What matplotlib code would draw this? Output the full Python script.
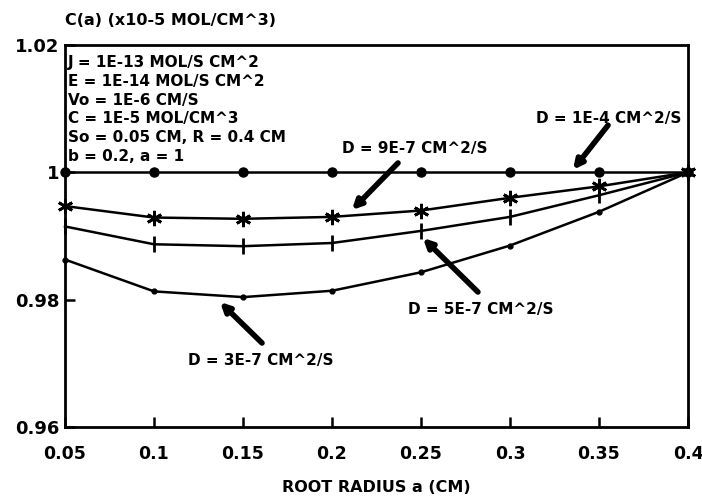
import matplotlib
matplotlib.use("Agg")
import matplotlib.pyplot as plt

# ---- data ----
radius = [0.05, 0.10, 0.15, 0.20, 0.25, 0.30, 0.35, 0.40]
c_d1e4 = [1.0, 1.0, 1.0, 1.0, 1.0, 1.0, 1.0, 1.0]
c_d9e7 = [0.9947, 0.9929, 0.9927, 0.9930, 0.9940, 0.9960, 0.9978, 1.0]
c_d5e7 = [0.9915, 0.9887, 0.9884, 0.9889, 0.9908, 0.9930, 0.9964, 1.0]
c_d3e7 = [0.9863, 0.9813, 0.9804, 0.9814, 0.9843, 0.9885, 0.9938, 1.0]

x_ticks = [0.05, 0.1, 0.15, 0.2, 0.25, 0.3, 0.35, 0.4]
x_ticklabels = ["0.05", "0.1", "0.15", "0.2", "0.25", "0.3", "0.35", "0.4"]
y_ticks = [0.96, 0.98, 1.0, 1.02]
y_ticklabels = ["0.96", "0.98", "1", "1.02"]

params = ["J = 1E-13 MOL/S CM^2",
          "E = 1E-14 MOL/S CM^2",
          "Vo = 1E-6 CM/S",
          "C = 1E-5 MOL/CM^3",
          "So = 0.05 CM, R = 0.4 CM",
          "b = 0.2, a = 1"]

labels = ["D = 1E-4 CM^2/S", "D = 9E-7 CM^2/S", "D = 5E-7 CM^2/S", "D = 3E-7 CM^2/S"]

plt.rcParams['font.family'] = ['DejaVu Sans']
plt.rcParams['font.weight'] = 'bold'

fig = plt.figure(figsize=(7.02, 4.98), dpi=100)
ax = fig.add_axes([0.0926, 0.1426, 0.8874, 0.767])

lw = 1.8
ax.plot(radius, c_d1e4, color='black', lw=lw, marker='o', ms=6.5, clip_on=False, zorder=3)
ax.plot(radius, c_d9e7, color='black', lw=lw, marker=(6, 2, 0), ms=11, mew=2, clip_on=False, zorder=3)
ax.plot(radius, c_d5e7, color='black', lw=lw, marker='|', ms=12, mew=2, clip_on=False, zorder=3)
ax.plot(radius, c_d3e7, color='black', lw=lw, marker='o', ms=3.5, clip_on=False, zorder=3)

ax.set_xlim(0.05, 0.4)
ax.set_ylim(0.96, 1.02)
ax.set_xticks(x_ticks)
ax.set_xticklabels(x_ticklabels, fontsize=12.5, fontweight='bold')
ax.set_yticks(y_ticks)
ax.set_yticklabels(y_ticklabels, fontsize=13, fontweight='bold')
ax.tick_params(direction='in', length=7, width=1.8)
ax.tick_params(axis='x', pad=13)
ax.tick_params(axis='y', pad=4)
for s in ax.spines.values():
    s.set_linewidth(2)

fig.text(0.0926, 0.958, "C(a) (x10-5 MOL/CM^3)", fontsize=11.5, fontweight='bold',
         ha='left', va='center')
ax.set_xlabel("ROOT RADIUS a (CM)", fontsize=11.5, fontweight='bold', labelpad=12)

# parameter block
for i, line in enumerate(params):
    ax.text(0.005, 0.955 - i * 0.0495, line, transform=ax.transAxes, fontsize=11,
            fontweight='bold', ha='left', va='center')

arrow = dict(arrowstyle='-|>', lw=4, color='black', mutation_scale=13,
             shrinkA=0, shrinkB=0)
ax.annotate("", xy=(0.3354, 1.0004), xytext=(0.3551, 1.0074), arrowprops=arrow)
ax.text(0.3965, 1.0085, labels[0], fontsize=11, fontweight='bold', ha='right', va='center')

ax.annotate("", xy=(0.2112, 0.99408), xytext=(0.2371, 1.00147), arrowprops=arrow)
ax.text(0.2056, 1.0038, labels[1], fontsize=11, fontweight='bold', ha='left', va='center')

ax.annotate("", xy=(0.2511, 0.98969), xytext=(0.2820, 0.9812), arrowprops=arrow)
ax.text(0.2427, 0.97838, labels[2], fontsize=11, fontweight='bold', ha='left', va='center')

ax.annotate("", xy=(0.1371, 0.97963), xytext=(0.1607, 0.97319), arrowprops=arrow)
ax.text(0.1191, 0.97052, labels[3], fontsize=11, fontweight='bold', ha='left', va='center')

fig.savefig("out.png", dpi=100)
